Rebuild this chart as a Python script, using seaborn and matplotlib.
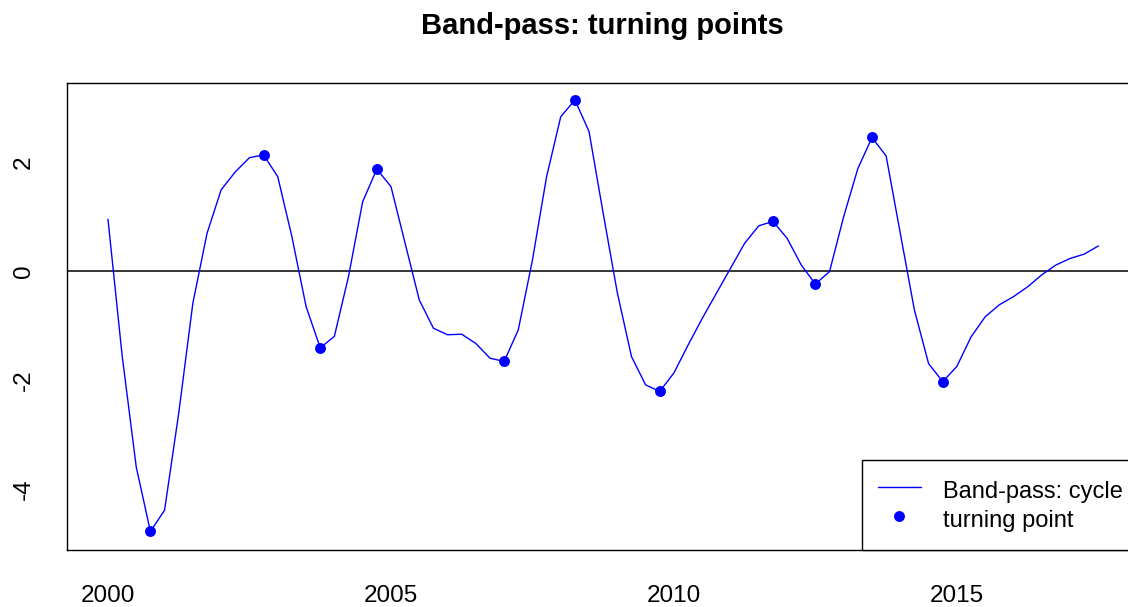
import numpy as np
import pandas as pd
import matplotlib
matplotlib.use("Agg")
import matplotlib.pyplot as plt
import seaborn as sns

# quarterly band-pass cycle, 2000Q1 .. 2017Q3
start_year = 2000
cycle_values = [
    0.95, -1.55, -3.60, -4.78,
    -4.39, -2.61, -0.59, 0.69,
    1.49, 1.82, 2.08, 2.13,
    1.73, 0.63, -0.65, -1.41,
    -1.20, -0.10, 1.27, 1.87,
    1.55, 0.51, -0.53, -1.05,
    -1.17, -1.16, -1.33, -1.60,
    -1.66, -1.08, 0.20, 1.73,
    2.83, 3.14, 2.56, 1.06,
    -0.40, -1.57, -2.09, -2.21,
    -1.87, -1.36, -0.87, -0.41,
    0.05, 0.51, 0.83, 0.91,
    0.60, 0.11, -0.24, -0.01,
    1.00, 1.88, 2.45, 2.11,
    0.69, -0.72, -1.70, -2.03,
    -1.75, -1.21, -0.84, -0.62,
    -0.47, -0.29, -0.07, 0.11,
    0.23, 0.31, 0.46,
]
turning_dates = [2000.75, 2002.75, 2003.75, 2004.75, 2007.0, 2008.25,
                 2009.75, 2011.75, 2012.5, 2013.5, 2014.75]
x_ticks = [2000, 2005, 2010, 2015]
y_ticks = [-4, -2, 0, 2]

dates = start_year + 0.25 * np.arange(len(cycle_values))
df = pd.DataFrame({"date": dates, "cycle": cycle_values})
tp = df[df["date"].round(2).isin(turning_dates)]

sns.set_style("white")
plt.rcParams['font.family'] = ['Liberation Sans', 'DejaVu Sans']
plt.rcParams['axes.unicode_minus'] = False
plt.rcParams['text.color'] = 'black'
plt.rcParams['xtick.color'] = 'black'
plt.rcParams['ytick.color'] = 'black'
plt.rcParams['axes.labelcolor'] = 'black'

W, H = 1128, 607
fig = plt.figure(figsize=(W / 100, H / 100), dpi=100)
ax = fig.add_axes([67 / W, 1 - 550 / H, (1138 - 67) / W, (550 - 83) / H])

sns.lineplot(data=df, x="date", y="cycle", color="blue", linewidth=1.0,
             label="Band-pass: cycle", ax=ax)
sns.scatterplot(data=tp, x="date", y="cycle", color="blue", edgecolor="blue",
                s=62, linewidth=0, label="turning point", zorder=3, ax=ax)
ax.axhline(0, color="black", linewidth=1.1, zorder=1)

ax.set_xlim(1999.276, 2018.2)
ax.set_ylim(-5.12, 3.45)
ax.set_xticks(x_ticks)
ax.set_yticks(y_ticks)
ax.set_xlabel("")
ax.set_ylabel("")
ax.tick_params(axis="both", length=10.5, width=1.0, color="black",
               labelcolor="black", labelsize=17.5, direction="out")
ax.tick_params(axis="x", pad=15)
ax.tick_params(axis="y", pad=12.5)
for lab in ax.get_yticklabels():
    lab.set_rotation(90)
    lab.set_va("center")
for sp in ax.spines.values():
    sp.set_color("black")
    sp.set_linewidth(1.0)

ax.set_title("Band-pass: turning points", fontsize=21, fontweight="bold",
             color="black", pad=35)

leg = ax.legend(loc="lower right", borderaxespad=0, fancybox=False,
                edgecolor="black", framealpha=1, fontsize=17,
                handlelength=1.85, handletextpad=0.9, borderpad=0.66,
                labelspacing=0.0, handleheight=1.55)
leg.get_frame().set_linewidth(1.0)
for t in leg.get_texts():
    t.set_color("black")

fig.savefig("out.png", dpi=100)
